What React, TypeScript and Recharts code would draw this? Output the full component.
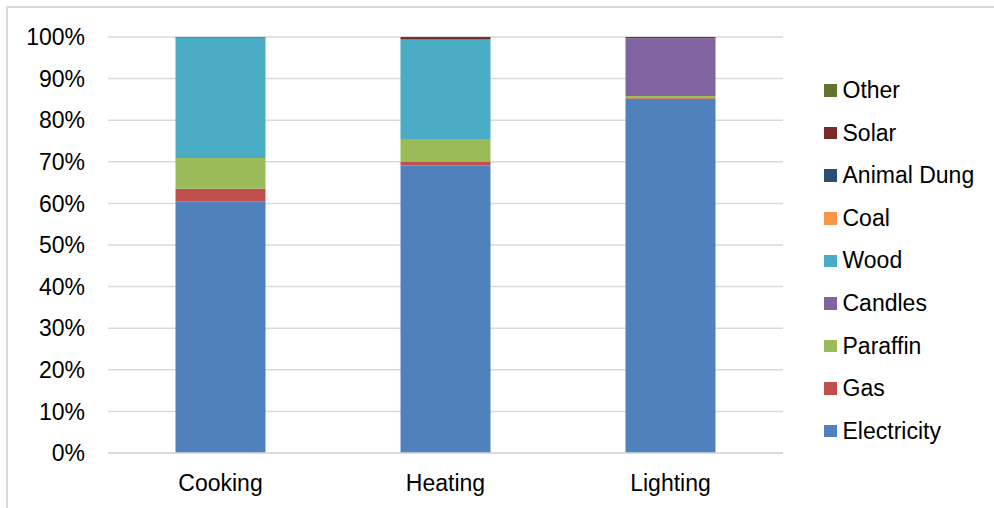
import React from 'react';
import { BarChart, Bar, XAxis, YAxis, CartesianGrid, Legend } from 'recharts';

// Share of households by energy source, per use (percent of total)
const uses = ['Cooking', 'Heating', 'Lighting'];

const electricity = [60.5, 69.1, 85.1];
const gas = [3.0, 1.0, 0.2];
const paraffin = [7.4, 5.4, 0.5];
const candles = [0, 0, 13.9];
const wood = [28.9, 23.9, 0];
const coal = [0, 0, 0];
const animalDung = [0, 0, 0];
const solar = [0, 0.6, 0.3];
const other = [0.2, 0, 0];

const yTicks = [0, 10, 20, 30, 40, 50, 60, 70, 80, 90, 100];

// stacking order, bottom to top
const series = [
  { key: 'Electricity', values: electricity, color: '#4F81BD' },
  { key: 'Gas', values: gas, color: '#C0504D' },
  { key: 'Paraffin', values: paraffin, color: '#9BBB59' },
  { key: 'Candles', values: candles, color: '#8064A2' },
  { key: 'Wood', values: wood, color: '#4BACC6' },
  { key: 'Coal', values: coal, color: '#F79646' },
  { key: 'Animal Dung', values: animalDung, color: '#2C4D75' },
  { key: 'Solar', values: solar, color: '#772C2A' },
  { key: 'Other', values: other, color: '#5F7530' },
];

const data = uses.map((use, i) => {
  const row: Record<string, string | number> = { use };
  series.forEach((s) => {
    row[s.key] = s.values[i];
  });
  return row;
});

const FONT = '"Liberation Sans", Arial, sans-serif';

function SourceLegend() {
  return (
    <div style={{ fontFamily: FONT, fontSize: 23, color: '#000' }}>
      {[...series].reverse().map((s) => (
        <div key={s.key} style={{ height: 42.6, display: 'flex', alignItems: 'center' }}>
          <span style={{ width: 12.5, height: 12.5, background: s.color, marginRight: 6, flexShrink: 0 }} />
          <span style={{ whiteSpace: 'nowrap', lineHeight: 1 }}>{s.key}</span>
        </div>
      ))}
    </div>
  );
}

export default function App() {
  return (
    <div style={{ position: 'absolute', left: 0, top: 0, width: 994, height: 508, overflow: 'hidden', background: '#fff' }}>
      <div
        style={{
          position: 'absolute',
          left: 6,
          top: 6,
          width: 1100,
          height: 600,
          border: '2px solid #d9d9d9',
        }}
      />
      <div style={{ position: 'absolute', left: 0, top: 0 }}>
        <BarChart
          width={994}
          height={508}
          data={data}
          margin={{ top: 37, right: 211, left: 0, bottom: 0 }}
          barCategoryGap="30%"
        >
          <CartesianGrid vertical={false} stroke="#d9d9d9" strokeWidth={1.5} />
          <XAxis
            dataKey="use"
            height={55}
            axisLine={{ stroke: '#d9d9d9', strokeWidth: 1.5 }}
            tickLine={false}
            tickMargin={16}
            tick={{ fill: '#000', fontSize: 23, fontFamily: FONT }}
          />
          <YAxis
            width={108}
            domain={[0, 100]}
            ticks={yTicks}
            allowDataOverflow
            axisLine={false}
            tickLine={false}
            tickMargin={17}
            tickFormatter={(v: number) => `${v}%`}
            tick={{ fill: '#000', fontSize: 23, fontFamily: FONT }}
          />
          <Legend
            layout="vertical"
            align="center"
            verticalAlign="middle"
            content={() => <SourceLegend />}
            wrapperStyle={{ left: 824, top: 69.2, width: 170 }}
          />
          {series.map((s) => (
            <Bar key={s.key} dataKey={s.key} stackId="a" fill={s.color} isAnimationActive={false} />
          ))}
        </BarChart>
      </div>
    </div>
  );
}
